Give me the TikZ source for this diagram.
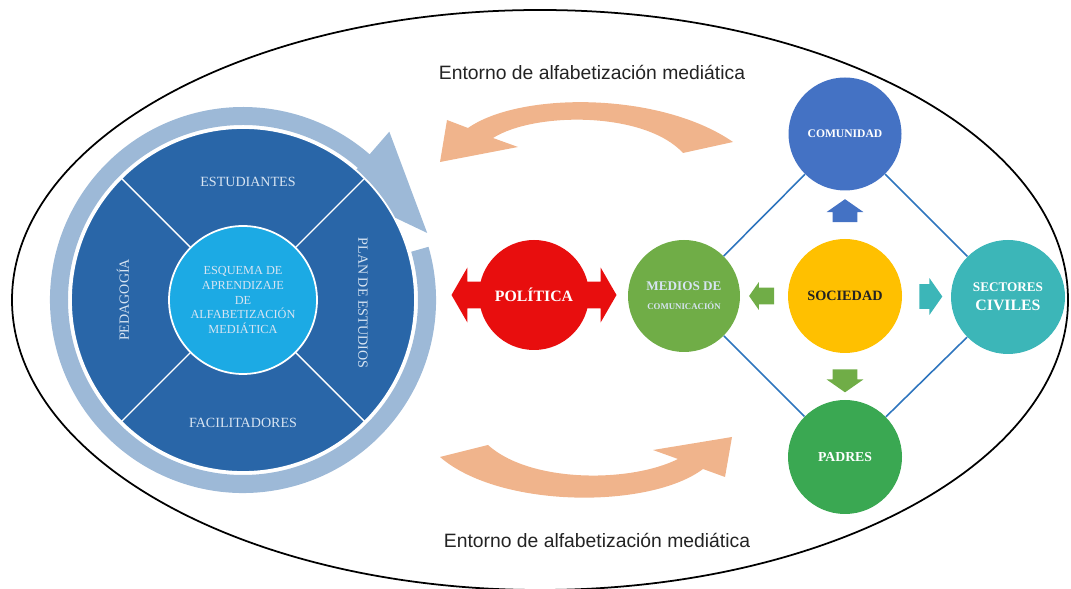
\documentclass[tikz,border=0pt]{standalone}
\usepackage{fontspec}
\setmainfont{Liberation Serif}
\newfontfamily\arialfont{Liberation Sans}
\usepackage{xcolor}
\usepackage{tikz}
\usetikzlibrary{arrows.meta,positioning,calc,shapes.geometric,shapes.arrows}
\definecolor{ringblue}{RGB}{157,185,215}
\definecolor{schemeblue}{RGB}{41,102,168}
\definecolor{coreblue}{RGB}{28,170,228}
\definecolor{palecap}{RGB}{215,228,242}
\definecolor{polred}{RGB}{232,14,14}
\definecolor{medgreen}{RGB}{112,173,71}
\definecolor{comblue}{RGB}{68,114,196}
\definecolor{socyellow}{RGB}{255,192,0}
\definecolor{secteal}{RGB}{60,182,184}
\definecolor{padgreen}{RGB}{58,168,82}
\definecolor{linkblue}{RGB}{46,117,190}
\definecolor{salmon}{RGB}{240,180,140}
\definecolor{inkgray}{RGB}{35,35,35}
\tikzset{
  disc/.style={circle,inner sep=0pt,align=center,minimum size=2.26cm},
  link/.style={line width=0.9pt,draw=linkblue},
  blockarr/.style={single arrow,draw=none,inner xsep=0pt,inner ysep=0.24cm,
    minimum height=0.46cm,single arrow head extend=0.12cm,single arrow tip angle=110},
  envtext/.style={font=\arialfont\fontsize{11}{13}\selectfont,text=inkgray}
}

\begin{document}
\begin{tikzpicture}[
  schemedisc/.style={circle,fill=schemeblue,draw=white,line width=1pt,inner sep=0pt},
  coredisc/.style={circle,fill=coreblue,draw=white,line width=1pt,inner sep=0pt,
    minimum size=2.96cm,align=center,text=palecap,
    font=\fontsize{7}{8.5}\selectfont},
  sectortext/.style={font=\fontsize{8}{9}\selectfont,text=palecap},
  dblarrow/.style={double arrow,fill=polred,draw=none,inner xsep=0pt,inner ysep=0.26cm,
    minimum height=3.30cm,double arrow head extend=0.28cm,double arrow tip angle=120},
  disclabel/.style={font=\bfseries\fontsize{#1}{#1}\selectfont}
]
\useasboundingbox (0,0) rectangle (21.42,11.78);

\draw[line width=1pt] (10.80,5.78) ellipse [x radius=10.56,y radius=5.80];

\coordinate (lcc) at (4.86,5.78);
\begin{scope}[shift={(lcc)}]
  \fill[ringblue] (16:3.86) arc[start angle=16,end angle=-311,radius=3.86]
    -- (49:4.46) -- (20:3.92) -- (49:2.90) -- (49:3.50)
    arc[start angle=-311,end angle=16,radius=3.50] -- cycle;
\end{scope}

\node[schemedisc,minimum size=6.88cm] (lc) at (lcc) {};
\begin{scope}[shift={(lcc)}]
  \foreach \a in {45,135,225,315}
    \draw[white,line width=0.8pt] (\a:1.48) -- (\a:3.44);
\end{scope}
\node[coredisc] (esq) at (lcc)
  {ESQUEMA DE\\APRENDIZAJE\\DE\\ALFABETIZACIÓN\\MEDIÁTICA};
\node[sectortext] (est) at (4.96,8.14) {ESTUDIANTES};
\node[sectortext] (fac) at (4.86,3.32) {FACILITADORES};
\node[sectortext,rotate=90] (ped) at (2.46,5.78) {PEDAGOGÍA};
\node[sectortext,rotate=-90] (plan) at (7.26,5.72) {PLAN DE ESTUDIOS};

\fill[salmon] (9.36,9.22) .. controls (10.40,9.95) and (13.20,9.95) .. (14.66,8.94)
  -- (13.66,8.72) .. controls (12.90,9.55) and (10.70,9.55) .. (9.86,9.02)
  -- (10.36,8.84) -- (8.80,8.54) -- (8.94,9.38) -- cycle;
\fill[salmon] (9.76,2.88) .. controls (10.60,2.12) and (12.60,2.12) .. (13.56,2.60)
  -- (13.06,2.78) -- (14.64,3.04) -- (14.50,2.24) -- (14.06,2.40)
  .. controls (13.00,1.60) and (10.00,1.60) .. (8.80,2.64) -- cycle;

\node[envtext] (envtop) at (11.84,10.34) {Entorno de alfabetización mediática};
\node[envtext] (envbot) at (11.94,0.98) {Entorno de alfabetización mediática};

\node[dblarrow] (polarr) at (10.68,5.88) {};
\node[disc,fill=polred,minimum size=2.20cm,text=white,disclabel=9] (pol) at (10.68,5.88) {POLÍTICA};

\node[disc,fill=medgreen,minimum size=2.24cm,text=palecap] (med) at (13.68,5.86)
  {{\bfseries\fontsize{7.5}{8}\selectfont MEDIOS DE}\\[-1pt]{\bfseries\fontsize{5}{6}\selectfont COMUNICACIÓN}};
\node[disc,fill=comblue,text=white,disclabel=6.6] (com) at (16.90,9.10) {COMUNIDAD};
\node[disc,fill=socyellow,minimum size=2.28cm,text=inkgray,disclabel=8.1] (soc) at (16.90,5.86) {SOCIEDAD};
\node[disc,fill=secteal,minimum size=2.28cm,text=white] (sec) at (20.16,5.84)
  {{\bfseries\fontsize{7.5}{8}\selectfont SECTORES}\\[-1pt]{\bfseries\fontsize{9}{9}\selectfont CIVILES}};
\node[disc,fill=padgreen,minimum size=2.28cm,text=white,disclabel=7.8] (pad) at (16.90,2.64) {PADRES};

\draw[link] (med) -- (com);
\draw[link] (com) -- (sec);
\draw[link] (sec) -- (pad);
\draw[link] (pad) -- (med);

\node[blockarr,fill=comblue,rotate=90] (uparr) at ($(soc)!0.5!(com)$) {};
\node[blockarr,fill=medgreen,rotate=-90] (downarr) at ($(soc)!0.5!(pad)$) {};
\node[blockarr,fill=secteal] (rightarr) at ($(soc)!0.5!(sec)$) {};
\node[blockarr,fill=medgreen,rotate=180,inner ysep=0.16cm,minimum height=0.50cm,
  single arrow head extend=0.11cm] (leftarr) at ($(soc)!0.5!(med)$) {};

\end{tikzpicture}
\end{document}
